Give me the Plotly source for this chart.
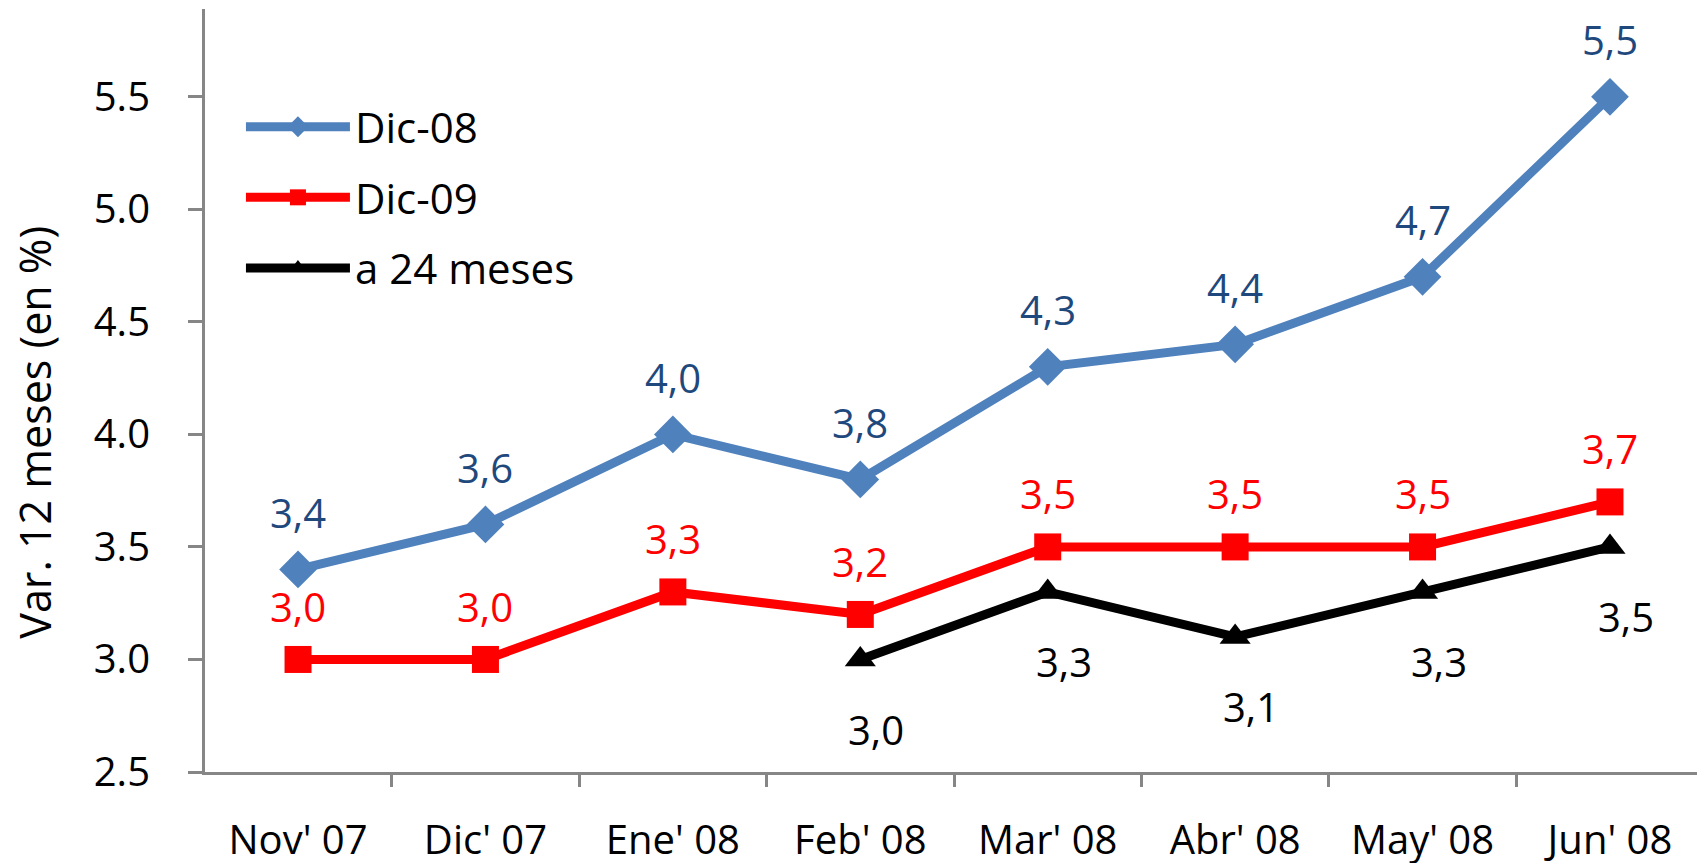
import plotly.graph_objects as go

meses = ["Nov' 07", "Dic' 07", "Ene' 08", "Feb' 08", "Mar' 08", "Abr' 08", "May' 08", "Jun' 08"]
dic_08 = [3.4, 3.6, 4.0, 3.8, 4.3, 4.4, 4.7, 5.5]
dic_09 = [3.0, 3.0, 3.3, 3.2, 3.5, 3.5, 3.5, 3.7]
a_24_meses = [None, None, None, 3.0, 3.3, 3.1, 3.3, 3.5]

FONT = "Open Sans"
AZUL = "#4F81BD"
AZUL_TXT = "#1F497D"
ROJO = "#FF0000"
NEGRO = "#000000"

series = [
    # nombre, valores, color linea, simbolo, tamaño, color etiqueta, yshift, xshift
    ("Dic-08", dic_08, AZUL, "diamond", 29, AZUL_TXT, 57, 0),
    ("Dic-09", dic_09, ROJO, "square", 27, ROJO, 53, 0),
    ("a 24 meses", a_24_meses, NEGRO, "triangle-up", 27, NEGRO, -70, 16),
]

fig = go.Figure()
anotaciones = []
for i, (nombre, valores, color, simbolo, tam, color_txt, dy, dx) in enumerate(series):
    fig.add_trace(go.Scatter(
        x=meses, y=valores,
        mode="lines+markers",
        name=nombre,
        legendgroup=str(i),
        line=dict(color=color, width=9),
        marker=dict(symbol=simbolo, size=tam, color=color),
        connectgaps=False,
    ))
    for m, v in zip(meses, valores):
        if v is None:
            continue
        anotaciones.append(dict(
            x=m, y=v, text=f"{v:.1f}".replace(".", ","),
            showarrow=False, yshift=dy, xshift=dx,
            font=dict(family=FONT, size=40, color=color_txt),
        ))

# titulo del eje Y (desplazado hacia abajo como en el original)
anotaciones.append(dict(
    text="Var. 12 meses (en %)", textangle=-90,
    xref="paper", yref="paper", x=-0.114, y=0.445,
    xanchor="center", yanchor="middle", showarrow=False,
    font=dict(family=FONT, size=43, color="black"),
))

# la pagina tiene un margen de 8px, se compensa en los margenes
fig.update_layout(
    width=1705, height=863,
    margin=dict(l=197, r=10, t=1, b=99),
    plot_bgcolor="white", paper_bgcolor="white",
    font=dict(family=FONT, size=40, color="black"),
    annotations=anotaciones,
    showlegend=True,
    legend=dict(
        x=0.024, y=0.89, xanchor="left", yanchor="top",
        font=dict(family=FONT, size=42),
        bgcolor="rgba(0,0,0,0)",
        tracegroupgap=13,
        itemwidth=104,
    ),
)
fig.update_xaxes(
    showline=True, linecolor="#868686", linewidth=3,
    ticks="outside", tickson="boundaries", ticklen=12, tickwidth=3, tickcolor="#868686",
    showgrid=False, ticklabelstandoff=31,
    tickfont=dict(family=FONT, size=40),
)
fig.update_yaxes(
    range=[2.5, 5.89],
    tickvals=[2.5, 3.0, 3.5, 4.0, 4.5, 5.0, 5.5], tickformat=".1f",
    showline=True, linecolor="#868686", linewidth=3,
    ticks="outside", ticklen=14, tickwidth=3, tickcolor="#868686",
    showgrid=False, zeroline=False, ticklabelstandoff=30,
    tickfont=dict(family=FONT, size=40),
)

fig.write_html("out.html")
